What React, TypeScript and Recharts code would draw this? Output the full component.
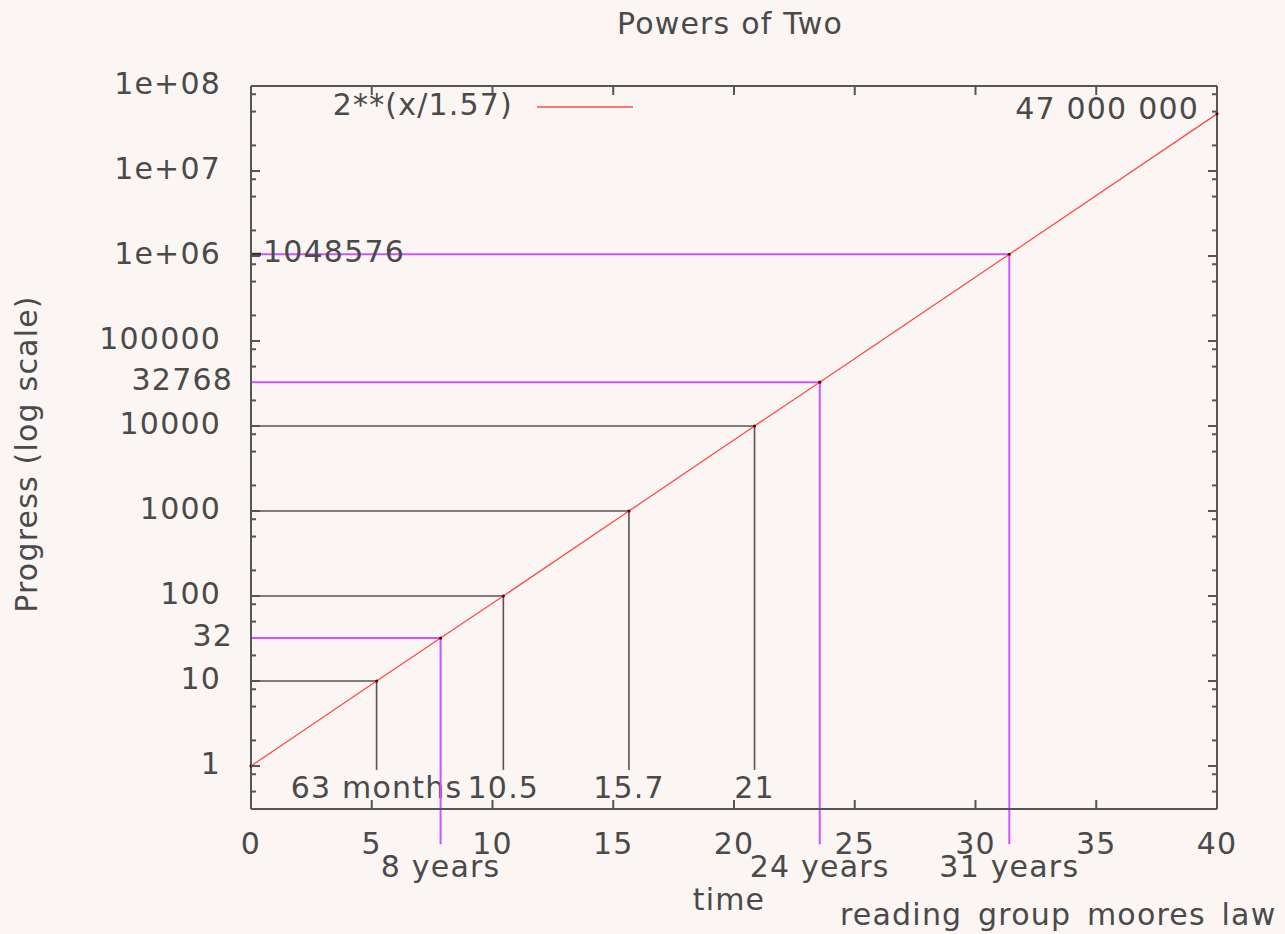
import { LineChart, Line, XAxis, YAxis, ReferenceLine, ReferenceDot, Legend } from "recharts";

// points, where the guide lines meet it
const curveX = [0, 5.2, 7.85, 10.45, 15.65, 20.85, 23.55, 31.4, 40];
const curveY = [1, 10, 32, 100, 1000, 10000, 32768, 1048576, 47000000];

// black guides (powers of ten)
const tenX = [5.2, 10.45, 15.65, 20.85];
const tenY = [10, 100, 1000, 10000];
const tenLabels = ["63 months", "10.5", "15.7", "21"];

// magenta guides (powers of two)
const yearX = [7.85, 23.55, 31.4];
const yearY = [32, 32768, 1048576];
const yearLabels = ["8 years", "24 years", "31 years"];

const xTicks = [0, 5, 10, 15, 20, 25, 30, 35, 40];
const yMajor = [1, 10, 100, 1000, 10000, 100000, 1e6, 1e7, 1e8];
const yMajorLabels = ["1", "10", "100", "1000", "10000", "100000", "1e+06", "1e+07", "1e+08"];
const yExtra = [32, 32768];
const yExtraLabels = ["32", "32768"];

const endLabel = "47 000 000";
const seriesName = "2**(x/1.57)";

const yMinor = [0.5, 0.8, ...yMajor.slice(0, -1).flatMap((d) => [2, 5, 8].map((m) => m * d))];
const yTicks = [...yMajor, ...yMinor, ...yExtra];

const data = curveX.map((x, i) => ({ x, y: curveY[i] }));

const BG = "#fbf6f3";
const AXIS = "#555555";
const TEXT = "#4a4a4a";
const RED = "#ff4a4a";
const MAGENTA = "#cc55ff";
const FONT = "'DejaVu Sans', sans-serif";
const FS = 30;
const txt = { fontSize: FS, fontFamily: FONT, fill: TEXT, letterSpacing: 1.2 };

function YTick(props: any) {
  const { x, y, payload, side } = props;
  const v = payload.value;
  const mi = yMajor.indexOf(v);
  const ei = yExtra.indexOf(v);
  const dir = side === "left" ? 1 : -1;
  const len = mi >= 0 ? 9 : ei >= 0 ? 0 : 5;
  let label: string | null = null;
  let endX = x - 30;
  if (mi >= 0) label = yMajorLabels[mi];
  if (ei >= 0) {
    label = yExtraLabels[ei];
    endX = x - 18;
  }
  return (
    <g>
      {len > 0 && <line x1={x} x2={x + dir * len} y1={y} y2={y} stroke={AXIS} strokeWidth={2} />}
      {side === "left" && label && (
        <text x={endX} y={y + 8} textAnchor="end" {...txt}>
          {label}
        </text>
      )}
    </g>
  );
}

function XTick(props: any) {
  const { x, y, payload, side } = props;
  const dir = side === "bottom" ? -1 : 1;
  return (
    <g>
      <line x1={x} x2={x} y1={y} y2={y + dir * 9} stroke={AXIS} strokeWidth={2} />
      {side === "bottom" && (
        <text x={x} y={y + 45} textAnchor="middle" {...txt}>
          {payload.value}
        </text>
      )}
    </g>
  );
}

function SegLabel(props: any) {
  const { viewBox, text, dy } = props;
  if (!viewBox) return null;
  return (
    <text x={viewBox.x} y={viewBox.y + viewBox.height + dy} textAnchor="middle" {...txt}>
      {text}
    </text>
  );
}

function MillionLabel(props: any) {
  const { viewBox } = props;
  if (!viewBox) return null;
  return (
    <g>
      <line x1={viewBox.x + 1} x2={viewBox.x + 10} y1={viewBox.y} y2={viewBox.y} stroke="#333" strokeWidth={3} />
      <text x={viewBox.x + 12} y={viewBox.y + 8} {...txt}>
        1048576
      </text>
    </g>
  );
}

function EndLabel(props: any) {
  const { viewBox } = props;
  if (!viewBox) return null;
  return (
    <text x={viewBox.x - 18} y={viewBox.y + 5} textAnchor="end" {...txt}>
      {endLabel}
    </text>
  );
}

function KeyBox() {
  return (
    <svg width={320} height={40} style={{ display: "block" }}>
      <text x={183} y={29} textAnchor="end" {...txt}>
        {seriesName}
      </text>
      <line x1={207} x2={303} y1={21} y2={21} stroke={RED} strokeWidth={1.5} />
    </svg>
  );
}

export default function App() {
  return (
    <div style={{ position: "absolute", left: 0, top: 0, width: 1285, height: 934, background: BG, overflow: "hidden" }}>
      <LineChart width={1285} height={934} data={data} margin={{ top: 80, right: 60, bottom: 95, left: 191 }}>
        <XAxis
          dataKey="x"
          type="number"
          domain={[0, 40]}
          ticks={xTicks}
          interval={0}
          height={30}
          axisLine={{ stroke: AXIS, strokeWidth: 2 }}
          tickLine={false}
          tickSize={0}
          tickMargin={0}
          tick={<XTick side="bottom" />}
        />
        <XAxis
          xAxisId="top"
          orientation="top"
          dataKey="x"
          type="number"
          domain={[0, 40]}
          ticks={xTicks}
          interval={0}
          height={6}
          axisLine={{ stroke: AXIS, strokeWidth: 2 }}
          tickLine={false}
          tickSize={0}
          tickMargin={0}
          tick={<XTick side="top" />}
        />
        <YAxis
          dataKey="y"
          scale="log"
          type="number"
          domain={[0.312, 1e8]}
          allowDataOverflow
          ticks={yTicks}
          interval={0}
          width={60}
          axisLine={{ stroke: AXIS, strokeWidth: 2 }}
          tickLine={false}
          tickSize={0}
          tickMargin={0}
          tick={<YTick side="left" />}
        />
        <YAxis
          yAxisId="right"
          orientation="right"
          scale="log"
          type="number"
          domain={[0.312, 1e8]}
          allowDataOverflow
          ticks={yTicks}
          interval={0}
          width={8}
          axisLine={{ stroke: AXIS, strokeWidth: 2 }}
          tickLine={false}
          tickSize={0}
          tickMargin={0}
          tick={<YTick side="right" />}
        />
        <Legend
          layout="vertical"
          align="center"
          verticalAlign="middle"
          content={<KeyBox />}
          wrapperStyle={{ top: 86, left: 330, width: 320, height: 40 }}
        />

        {tenX.map((x, i) => (
          <ReferenceLine
            key={"th" + i}
            segment={[{ x: 0, y: tenY[i] }, { x, y: tenY[i] }]}
            stroke={AXIS}
            strokeWidth={1.6}
            ifOverflow="visible"
          />
        ))}
        {tenX.map((x, i) => (
          <ReferenceLine
            key={"tv" + i}
            segment={[{ x, y: 0.9 }, { x, y: tenY[i] }]}
            stroke={AXIS}
            strokeWidth={1.6}
            ifOverflow="visible"
            label={<SegLabel text={tenLabels[i]} dy={28} />}
          />
        ))}
        {yearX.map((x, i) => (
          <ReferenceLine
            key={"mh" + i}
            segment={[{ x: 0, y: yearY[i] }, { x, y: yearY[i] }]}
            stroke={MAGENTA}
            strokeWidth={2}
            ifOverflow="visible"
            label={i === 2 ? <MillionLabel /> : undefined}
          />
        ))}
        {yearX.map((x, i) => (
          <ReferenceLine
            key={"mv" + i}
            segment={[{ x, y: 0.12 }, { x, y: yearY[i] }]}
            stroke={MAGENTA}
            strokeWidth={2}
            ifOverflow="visible"
            label={<SegLabel text={yearLabels[i]} dy={33} />}
          />
        ))}

        <Line
          type="linear"
          dataKey="y"
          name={seriesName}
          stroke={RED}
          strokeWidth={1.3}
          dot={{ r: 1.6, fill: "#6a0000", stroke: "none" }}
          isAnimationActive={false}
        />
        <ReferenceDot
          x={curveX[curveX.length - 1]}
          y={curveY[curveY.length - 1]}
          r={0}
          ifOverflow="visible"
          label={<EndLabel />}
        />
      </LineChart>

      <svg width={1285} height={934} style={{ position: "absolute", left: 0, top: 0, pointerEvents: "none" }}>
        <text x={730} y={34} textAnchor="middle" {...txt}>
          Powers of Two
        </text>
        <text x={729} y={910} textAnchor="middle" {...txt}>
          time
        </text>
        <text x={840} y={925} {...txt} wordSpacing={5}>
          reading group moores law
        </text>
        <text x={37} y={454} transform="rotate(-90 37 454)" textAnchor="middle" {...txt}>
          Progress (log scale)
        </text>
      </svg>
    </div>
  );
}
